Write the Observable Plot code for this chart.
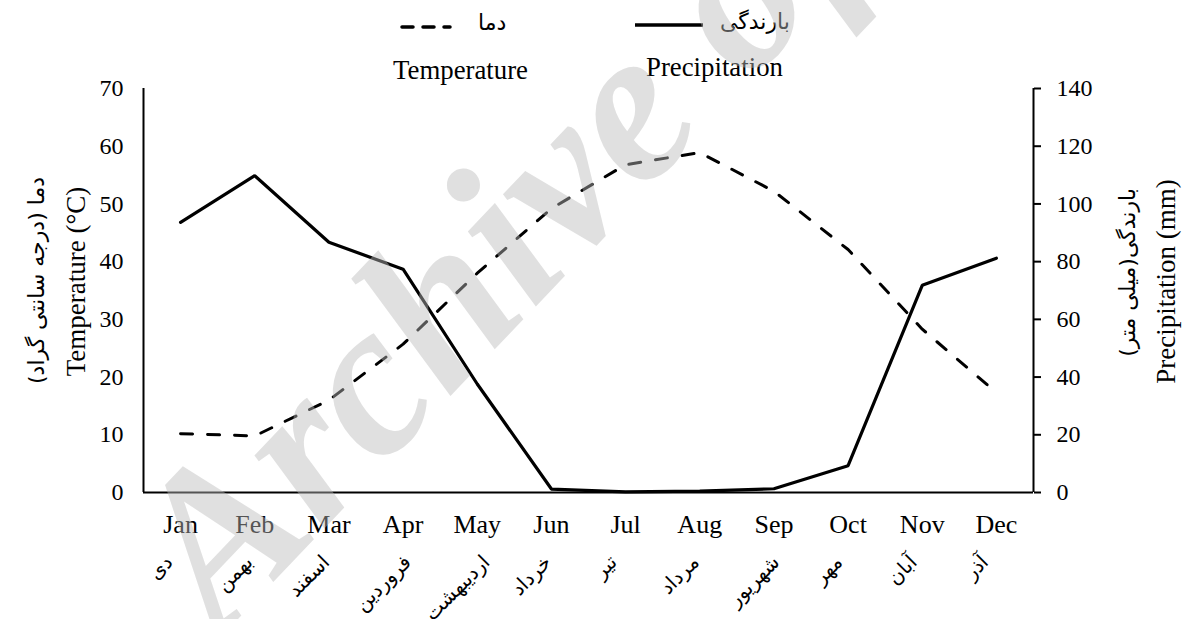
<!DOCTYPE html>
<html><head><meta charset="utf-8">
<script src="https://cdn.jsdelivr.net/npm/d3@7"></script>
<script src="https://cdn.jsdelivr.net/npm/@observablehq/plot@0.6"></script>
<style>
body{margin:0;background:#fff;}
#wrap{position:relative;width:1190px;height:619px;overflow:hidden;font-family:"Liberation Serif",serif;color:#000;}
.abs{position:absolute;white-space:nowrap;line-height:1;}
</style></head><body><div id="wrap"></div>
<script>
const months = ["Jan","Feb","Mar","Apr","May","Jun","Jul","Aug","Sep","Oct","Nov","Dec"];
const monthsFa = ["دی","بهمن","اسفند","فروردین","اردیبهشت","خرداد","تیر","مرداد","شهریور","مهر","آبان","آذر"];
const temperature = [10.2, 9.8, 16.0, 25.7, 38.0, 49.2, 56.8, 58.9, 52.2, 42.1, 28.3, 17.3];
const precipitation = [93.6, 109.8, 86.7, 77.4, 37.6, 1.2, 0.2, 0.5, 1.3, 9.3, 71.8, 81.2];
const tempTicks = [0,10,20,30,40,50,60,70];
const precipTicks = [0,20,40,60,80,100,120,140];
const legendFa = {temp:"دما", precip:"بارندگی"};
const legendEn = {temp:"Temperature", precip:"Precipitation"};
const titleLeftEn = "Temperature (°C)";
const titleLeftFa = "دما (درجه سانتی گراد)";
const titleRightEn = "Precipitation (mm)";
const titleRightFa = "بارندگی(میلی متر)";
const watermark = "Archive of SID";

const data = months.map((m,i)=>({i, m, temp: temperature[i], precip: precipitation[i]}));
const ratio = 2; // precipitation units per temperature unit (right axis)

const faFont = "DejaVu Sans";
const faSize = 20;
const ctx = document.createElement("canvas").getContext("2d");
ctx.font = `${faSize}px "${faFont}"`;
const faHalf = monthsFa.map(s => (ctx.measureText(s).width + faSize*0.9)/(2*Math.SQRT2));

const faMarks = monthsFa.map((s,i)=>
  Plot.text([i], {x: d=>d, frameAnchor:"bottom", text: ()=>s, rotate: -45,
    textAnchor:"middle", lineAnchor:"middle",
    dx:-20, dy: 60 + faHalf[i], fontFamily: faFont, fontSize: faSize, fill:"#000"})
);

const chart = Plot.plot({
  width:1190, height:619, marginTop:88, marginBottom:127, marginLeft:143, marginRight:157,
  style:{fontFamily:"Liberation Serif", fontSize:"24px", color:"#000", background:"transparent", overflow:"visible"},
  x:{type:"linear", domain:[-0.5, 11.5], axis:null},
  y:{domain:[0,70], axis:null},
  marks:[
    Plot.axisY(tempTicks, {anchor:"left", tickSize:0, tickPadding:20, fontSize:24, label:null}),
    Plot.axisY(tempTicks, {anchor:"right", tickSize:7, tickPadding:16, strokeWidth:2, fontSize:24, label:null,
      tickFormat: d => String(precipTicks[tempTicks.indexOf(d)])}),
    Plot.axisX(d3.range(12), {anchor:"bottom", tickSize:0, tickPadding:22, fontSize:26, label:null,
      tickFormat: i => months[i]}),
    ...faMarks,
    Plot.ruleX([-0.5, 11.5], {y1:0, y2:70, stroke:"#000", strokeWidth:2}),
    Plot.ruleY([0], {stroke:"#000", strokeWidth:2}),
    Plot.lineY(data, {x:"i", y:"temp", stroke:"#000", strokeWidth:3, strokeDasharray:"12,15", strokeLinecap:"round"}),
    Plot.lineY(data, {x:"i", y: d => d.precip/ratio, stroke:"#000", strokeWidth:3.2, strokeLinejoin:"miter"}),
    Plot.text([0], {frameAnchor:"left", textAnchor:"middle", lineAnchor:"middle", dx:-67, dy:-9, rotate:-90, text:()=>titleLeftEn, fontSize:27, fontFamily:"Liberation Serif"}),
    Plot.text([0], {frameAnchor:"left", textAnchor:"middle", lineAnchor:"middle", dx:-107, dy:-10, rotate:-90, text:()=>titleLeftFa, fontSize:22, fontFamily:faFont}),
    Plot.text([0], {frameAnchor:"right", textAnchor:"middle", lineAnchor:"middle", dx:94, dy:-18, rotate:-90, text:()=>titleRightFa, fontSize:22, fontFamily:faFont}),
    Plot.text([0], {frameAnchor:"right", textAnchor:"middle", lineAnchor:"middle", dx:133, dy:-9, rotate:-90, text:()=>titleRightEn, fontSize:27, fontFamily:"Liberation Serif"})
  ]
});

const wrap = document.getElementById("wrap");
chart.style.position = "absolute"; chart.style.left = "0"; chart.style.top = "0";
wrap.appendChild(chart);

// legend
const ns = "http://www.w3.org/2000/svg";
function legendLine(x1, x2, y, dash){
  const s = document.createElementNS(ns, "svg");
  s.setAttribute("width", 1190); s.setAttribute("height", 60);
  s.style.position="absolute"; s.style.left="0"; s.style.top="0";
  const l = document.createElementNS(ns, "line");
  l.setAttribute("x1", x1); l.setAttribute("x2", x2); l.setAttribute("y1", y); l.setAttribute("y2", y);
  l.setAttribute("stroke", "#000"); l.setAttribute("stroke-width", 3.5);
  if (dash){ l.setAttribute("stroke-dasharray", dash); l.setAttribute("stroke-linecap","round"); }
  s.appendChild(l); wrap.appendChild(s);
}
legendLine(402, 450, 27, "11,10");
legendLine(635, 703, 25, null);
function label(text, x, y, size, font){
  const d = document.createElement("div");
  d.className = "abs"; d.textContent = text;
  d.style.fontSize = size + "px"; d.style.fontFamily = font;
  d.style.left = x + "px"; d.style.top = y + "px";
  wrap.appendChild(d);
}
label(legendFa.temp, 478, 12, 22, faFont);
label(legendFa.precip, 720, 11, 22, faFont);
label(legendEn.temp, 393, 57, 26.8, "Liberation Serif");
label(legendEn.precip, 646, 54, 26.8, "Liberation Serif");

// watermark (drawn over the chart, semi-transparent)
const wmSvg = document.createElementNS(ns, "svg");
wmSvg.setAttribute("width", 1190); wmSvg.setAttribute("height", 619);
wmSvg.style.position="absolute"; wmSvg.style.left="0"; wmSvg.style.top="0";
const wm = document.createElementNS(ns, "text");
wm.textContent = watermark;
wm.setAttribute("transform", "translate(220,638) rotate(-46.4)");
wm.setAttribute("text-anchor", "start");
wm.setAttribute("font-family", "Liberation Serif");
wm.setAttribute("font-style", "italic");
wm.setAttribute("font-weight", "bold");
wm.setAttribute("font-size", 220);
wm.setAttribute("fill", "rgb(187,187,187)");
wm.setAttribute("fill-opacity", 0.45);
wmSvg.appendChild(wm);
wrap.appendChild(wmSvg);
</script></body></html>
